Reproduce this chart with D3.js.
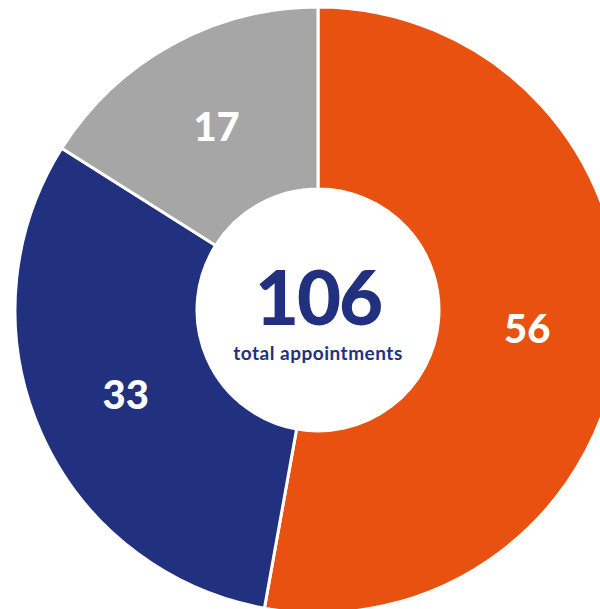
<!DOCTYPE html>
<html><head><meta charset="utf-8">
<script src="https://cdn.jsdelivr.net/npm/d3@7"></script>
<style>html,body{margin:0;padding:0;background:#fff;overflow:hidden}</style>
</head><body>
<svg id="chart" width="600" height="609"></svg>
<script>
const categories = ["A", "B", "C"];
const values = [56, 33, 17];
const colors = ["#E8510F", "#22317F", "#A6A6A6"];
const totalLabel = "total appointments";

const svg = d3.select("#chart");
const cx = 318, cy = 310, outerR = 303, innerR = 121, labelR = 210;
const g = svg.append("g").attr("transform", `translate(${cx},${cy})`);

const pie = d3.pie().sort(null).value(d => d.v);
const data = pie(categories.map((c, i) => ({c, v: values[i], col: colors[i]})));
const arc = d3.arc().innerRadius(innerR).outerRadius(outerR);
const lab = d3.arc().innerRadius(labelR).outerRadius(labelR);

g.selectAll("path").data(data).enter().append("path")
  .attr("d", arc).attr("fill", d => d.data.col)
  .attr("stroke", "#fff").attr("stroke-width", 3);

g.selectAll("text.v").data(data).enter().append("text")
  .attr("class", "v")
  .attr("transform", d => `translate(${lab.centroid(d)})`)
  .attr("text-anchor", "middle").attr("dy", "0.36em")
  .attr("font-family", "Lato, sans-serif").attr("font-weight", 900)
  .attr("font-size", 40).attr("fill", "#fff")
  .text(d => d.data.v);

g.append("text").attr("text-anchor", "middle").attr("y", 15)
  .attr("font-family", "Lato, sans-serif").attr("font-weight", 900)
  .attr("font-size", 76).attr("letter-spacing", -2).attr("fill", "#22317F")
  .text(d3.sum(values));
g.append("text").attr("text-anchor", "middle").attr("y", 50)
  .attr("font-family", "Lato, sans-serif").attr("font-weight", 700)
  .attr("font-size", 19).attr("letter-spacing", 0.5).attr("fill", "#22317F")
  .text(totalLabel);
</script>
</body></html>
